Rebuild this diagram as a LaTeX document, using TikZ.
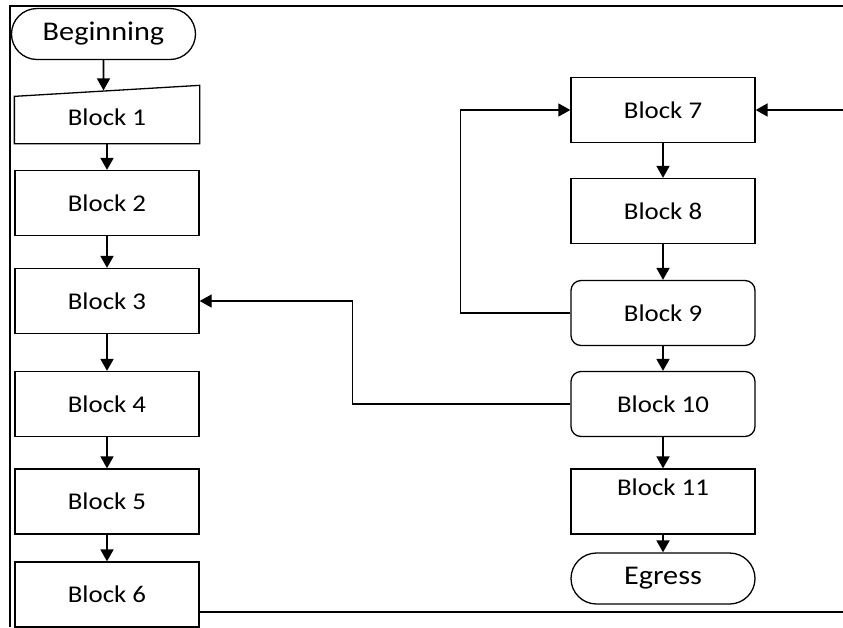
\documentclass[tikz,border=0pt]{standalone}
\usepackage{fontspec}
\setmainfont{Carlito}[FakeStretch=1.12]
\tikzset{blk/.style = {draw, line width=1.3pt, minimum width=184pt, minimum height=65pt, inner sep=0, font=\fontsize{24}{28}\selectfont}}
\tikzset{term/.style = {blk, rounded rectangle, minimum height=51pt, font=\fontsize{27}{31}\selectfont}}
\tikzset{rnd/.style = {blk, rounded corners=10pt}}
\tikzset{arr/.style = {-{Triangle[length=12pt,width=13pt]}, line width=1.8pt}}
\tikzset{wire/.style = {line width=1.3pt}}
\usetikzlibrary{arrows.meta,shapes.misc}

\begin{document}
\begin{tikzpicture}[x=1pt,y=-1pt]
    \useasboundingbox (0,0) rectangle (843,627);

    % left column
    \node [term] (beg) at (103.5,34) {Beginning};
    \node [blk, draw=none, minimum height=52pt] (b1) at (107,117) {Block 1};
    \draw [wire] (b1.south west) -- ([yshift=-6pt]b1.north west) -- ([yshift=5pt]b1.north east) -- (b1.south east) -- cycle;
    \node [blk] (b2) at (107,203) {Block 2};
    \node [blk] (b3) at (107,301) {Block 3};
    \node [blk] (b4) at (107,404) {Block 4};
    \node [blk] (b5) at (107,501.5) {Block 5};
    \node [blk] (b6) at (107,594.5) {Block 6};

    % right column
    \node [blk] (b7) at (663,110) {Block 7};
    \node [blk] (b8) at (663,211) {Block 8};
    \node [rnd] (b9) at (663,313) {Block 9};
    \node [rnd] (b10) at (663,404) {Block 10};
    \node [blk, align=center] (b11) at (663,501.5) {Block 11\\ \mbox{}};
    \node [term] (egr) at (663,578.5) {Egress};

    \draw [arr] (beg) -- (beg |- b1.north);
    \foreach \a/\b in {b1/b2, b2/b3, b3/b4, b4/b5, b5/b6, b7/b8, b8/b9, b9/b10, b10/b11, b11/egr}
        \draw [arr] (\a) -- (\b);

    \draw [arr, wire] (b9.west) -- ++(-110,0) |- (b7.west);
    \draw [arr, wire] (b10.west) -- ++(-218,0) |- (b3.east);

    % frame
    \coordinate (tr) at (843,6);
    \coordinate (tl) at (10,6);
    \coordinate (bl) at (10,627);
    \coordinate (br) at (843,612);
    \coordinate (rin) at (843,110);
    \draw [arr] (rin) -- (b7.east);
    \draw [line width=2pt] (tr) -- (tl) -- (bl);
    \draw [wire] (b6.east |- br) -- (br);
\end{tikzpicture}
\end{document}
